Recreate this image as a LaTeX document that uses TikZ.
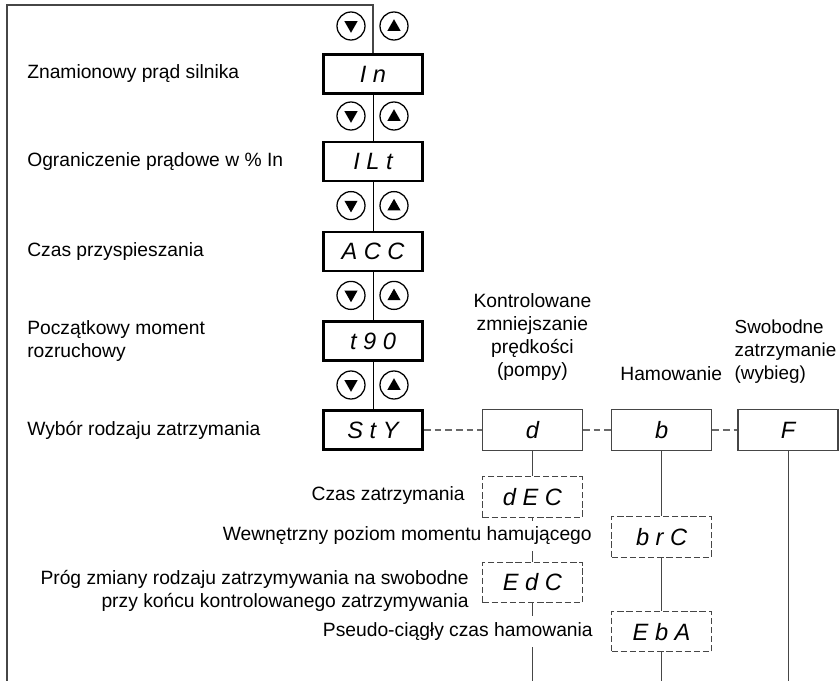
\documentclass[tikz,border=0pt]{standalone}
\usepackage{fontspec}
\setmainfont{Liberation Sans}
\usepackage{tikz}
\usetikzlibrary{calc}
\definecolor{mygray}{RGB}{70,70,70}
\definecolor{mydash}{RGB}{105,105,105}

\begin{document}
\begin{tikzpicture}[
  par/.style={draw=black,line width=1.8pt,minimum width=2.48cm,minimum height=0.98cm,
              inner sep=0pt,font=\fontsize{16.8}{18}\selectfont\itshape},
  sel/.style={draw=mygray,line width=0.8pt,minimum width=2.5cm,minimum height=1.01cm,
              inner sep=0pt,font=\fontsize{16.8}{18}\selectfont\itshape},
  sub/.style={sel,dash pattern=on 4.5pt off 2pt},
  lbl/.style={anchor=west,inner xsep=0pt,align=left,
              font=\fontsize{13.7}{16.4}\selectfont},
  rlbl/.style={anchor=east,inner xsep=0pt,inner ysep=4.5pt,fill=white,align=right,
               font=\fontsize{13.7}{16.4}\selectfont},
  head/.style={align=center,inner sep=0pt,font=\fontsize{13.7}{16.4}\selectfont},
  btndown/.style={circle,draw,line width=0.9pt,minimum size=0.7cm,inner sep=0pt,
    path picture={\fill ($(path picture bounding box.center)+(-0.165,0.12)$)
      -- ++(0.33,0) -- ++(-0.165,-0.29) -- cycle;}},
  btnup/.style={circle,draw,line width=0.9pt,minimum size=0.7cm,inner sep=0pt,
    path picture={\fill ($(path picture bounding box.center)+(-0.165,-0.12)$)
      -- ++(0.33,0) -- ++(-0.165,0.29) -- cycle;}},
  frame/.style={mygray,line width=0.9pt},
  link/.style={black,line width=0.7pt},
  sublink/.style={mygray,line width=0.7pt},
  dlink/.style={mydash,line width=0.8pt,dash pattern=on 4.8pt off 2.8pt}]
  \useasboundingbox (0,0) rectangle (20.975,-17.025);
  % main parameter column
  \node[par](in) at (9.325,-1.85) {I n};
  \node[par](ilt) at (9.325,-4.04) {I L t};
  \node[par](acc) at (9.325,-6.29) {A C C};
  \node[par](t90) at (9.325,-8.525) {t 9 0};
  \node[par](sty) at (9.325,-10.75) {S t Y};
  \coordinate (tl) at (0.175,-0.125);
  \coordinate (bl) at (0.175,-17.025);
  \draw[frame](in.north) |- (tl) -- (bl);
  \draw[link](in)--(ilt); \draw[link](ilt)--(acc);
  \draw[link](acc)--(t90); \draw[link](t90)--(sty);
  % up/down keys
  \node[btndown](dn0) at (8.775,-0.65){}; \node[btnup](up0) at (9.85,-0.65){};
  \node[btndown](dn1) at (8.775,-2.9){}; \node[btnup](up1) at (9.85,-2.9){};
  \node[btndown](dn2) at (8.775,-5.14){}; \node[btnup](up2) at (9.85,-5.14){};
  \node[btndown](dn3) at (8.775,-7.385){}; \node[btnup](up3) at (9.85,-7.385){};
  \node[btndown](dn4) at (8.775,-9.625){}; \node[btnup](up4) at (9.85,-9.625){};
  \node[lbl](lin) at (0.675,-1.85) {Znamionowy prąd silnika};
  \node[lbl](lilt) at (0.675,-4.04) {Ograniczenie prądowe w \% In};
  \node[lbl](lacc) at (0.675,-6.29) {Czas przyspieszania};
  \node[lbl](lt90) at (0.675,-8.525) {Początkowy moment\\rozruchowy};
  \node[lbl](lsty) at (0.675,-10.75) {Wybór rodzaju zatrzymania};
  % stop modes
  \node[sel](selD) at (13.31,-10.75) {d};
  \node[sel](selB) at (16.54,-10.75) {b};
  \node[sel](selF) at (19.7,-10.75) {F};
  \draw[dlink](sty)--(selD); \draw[dlink](selD)--(selB); \draw[dlink](selB)--(selF);
  \node[head](hD) at (13.31,-8.43) {Kontrolowane\\zmniejszanie\\prędkości\\(pompy)};
  \node[head](hB) at (16.78,-9.33) {Hamowanie};
  \node[head,anchor=west,align=left,font=\fontsize{13.4}{16.4}\selectfont](hF)
    at (18.36,-8.8) {Swobodne\\zatrzymanie\\(wybieg)};
  \node[sub](dec) at (13.31,-12.425) {d E C};
  \node[sub](edc) at (13.31,-14.56) {E d C};
  \node[sub](brc) at (16.54,-13.425) {b r C};
  \node[sub](eba) at (16.54,-15.79) {E b A};
  \coordinate (dend) at (13.31,-17.025);
  \coordinate (bend) at (16.54,-17.025);
  \coordinate (fend) at (19.7,-17.025);
  \draw[sublink](selD)--(dec); \draw[sublink](dec)--(edc); \draw[sublink](edc)--(dend);
  \draw[sublink](selB)--(brc); \draw[sublink](brc)--(eba); \draw[sublink](eba)--(bend);
  \draw[sublink](selF)--(fend);
  \node[rlbl](ldec) at (11.625,-12.4) {Czas zatrzymania};
  \node[rlbl](lbrc) at (14.8,-13.4) {Wewnętrzny poziom momentu hamującego};
  \node[rlbl](ledc) at (11.725,-14.78) {Próg zmiany rodzaju zatrzymywania na swobodne\\przy końcu kontrolowanego zatrzymywania};
  \node[rlbl](leba) at (14.825,-15.79) {Pseudo-ciągły czas hamowania};
\end{tikzpicture}
\end{document}
